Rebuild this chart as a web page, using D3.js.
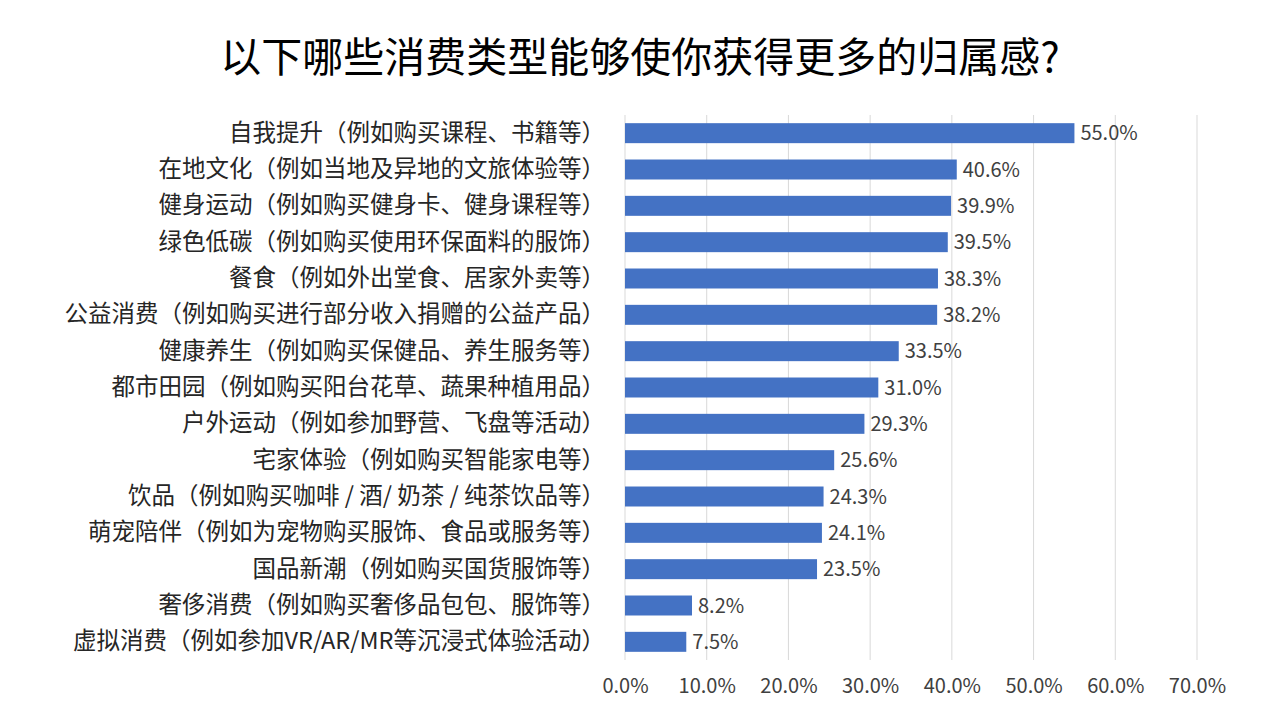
<!DOCTYPE html>
<html>
<head>
<meta charset="utf-8">
<script src="https://cdn.jsdelivr.net/npm/d3@7"></script>
<style>
  body { margin: 0; background: #fff; }
  svg text { font-family: "Noto Sans CJK SC", "Noto Sans", sans-serif; }
</style>
</head>
<body>
<svg id="chart" width="1280" height="720"></svg>
<script>
const title = '以下哪些消费类型能够使你获得更多的归属感?';

const categories = [
  '自我提升（例如购买课程、书籍等）',
  '在地文化（例如当地及异地的文旅体验等）',
  '健身运动（例如购买健身卡、健身课程等）',
  '绿色低碳（例如购买使用环保面料的服饰）',
  '餐食（例如外出堂食、居家外卖等）',
  '公益消费（例如购买进行部分收入捐赠的公益产品）',
  '健康养生（例如购买保健品、养生服务等）',
  '都市田园（例如购买阳台花草、蔬果种植用品）',
  '户外运动（例如参加野营、飞盘等活动）',
  '宅家体验（例如购买智能家电等）',
  '饮品（例如购买咖啡 / 酒/ 奶茶 / 纯茶饮品等）',
  '萌宠陪伴（例如为宠物购买服饰、食品或服务等）',
  '国品新潮（例如购买国货服饰等）',
  '奢侈消费（例如购买奢侈品包包、服饰等）',
  '虚拟消费（例如参加VR/AR/MR等沉浸式体验活动）'
];

const values = [55.0, 40.6, 39.9, 39.5, 38.3, 38.2, 33.5, 31.0, 29.3, 25.6, 24.3, 24.1, 23.5, 8.2, 7.5];

const ticks = [0, 10, 20, 30, 40, 50, 60, 70];

const svg = d3.select('#chart');

const plotLeft = 625, plotRight = 1197, plotTop = 115, plotBottom = 660;

const x = d3.scaleLinear().domain([0, 70]).range([plotLeft, plotRight]);
const y = d3.scaleBand().domain(categories).range([plotTop, plotBottom]).paddingInner(0.45).paddingOuter(0.225);

svg.append('text')
    .attr('x', 640)
    .attr('y', 72)
    .attr('text-anchor', 'middle')
    .attr('font-size', 41)
    .attr('fill', '#000')
    .text(title);

// vertical gridlines
svg.append('g')
    .attr('class', 'grid')
    .selectAll('line')
    .data(ticks)
    .enter()
    .append('line')
    .attr('x1', d => x(d))
    .attr('x2', d => x(d))
    .attr('y1', plotTop)
    .attr('y2', plotBottom)
    .attr('stroke', '#d9d9d9')
    .attr('stroke-width', 1);

// x axis tick labels
const xAxis = svg.append('g')
    .attr('transform', `translate(0,${plotBottom})`)
    .call(d3.axisBottom(x).tickValues(ticks).tickSize(0).tickPadding(19).tickFormat(d => d.toFixed(1) + '%'));
xAxis.select('.domain').remove();
xAxis.selectAll('text')
    .attr('font-size', 20)
    .attr('fill', '#404040')
    .style('font-family', '"Noto Sans CJK SC", sans-serif');

// category labels
const yAxis = svg.append('g')
    .attr('transform', `translate(${plotLeft},0)`)
    .call(d3.axisLeft(y).tickSize(0).tickPadding(20));
yAxis.select('.domain').remove();
yAxis.selectAll('text')
    .attr('font-size', 23.5)
    .attr('fill', '#262626')
    .style('font-family', '"Noto Sans CJK SC", sans-serif');

// bars
svg.append('g')
    .selectAll('rect')
    .data(values)
    .enter()
    .append('rect')
    .attr('x', x(0))
    .attr('y', (d, i) => y(categories[i]))
    .attr('width', d => x(d) - x(0))
    .attr('height', y.bandwidth())
    .attr('fill', '#4472c4');

// value labels
svg.append('g')
    .selectAll('text')
    .data(values)
    .enter()
    .append('text')
    .attr('x', d => x(d) + 6)
    .attr('y', (d, i) => y(categories[i]) + y.bandwidth() / 2)
    .attr('dy', '0.35em')
    .attr('font-size', 20)
    .attr('fill', '#404040')
    .text(d => d.toFixed(1) + '%');
</script>
</body>
</html>
